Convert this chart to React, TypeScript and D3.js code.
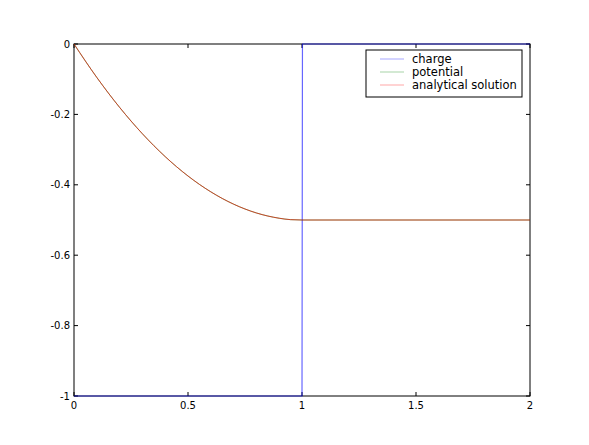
import * as d3 from "d3";

// charge density: uniform inside the slab, zero outside
const chargeX = [0, 1, 1.002, 2];
const chargeY = [-1, -1, 0, 0];

// potential (numerical) and analytical solution
const potentialX = [0, 0.1, 0.2, 0.3, 0.4, 0.5, 0.6, 0.7, 0.8, 0.9, 0.95, 1, 1.5, 2];
const potentialY = [0, -0.095, -0.18, -0.255, -0.32, -0.375, -0.42, -0.455, -0.48, -0.495, -0.499, -0.5, -0.5, -0.5];
const analyticalX = [0, 0.1, 0.2, 0.3, 0.4, 0.5, 0.6, 0.7, 0.8, 0.9, 0.95, 1, 1.5, 2];
const analyticalY = [0, -0.095, -0.18, -0.255, -0.32, -0.375, -0.42, -0.455, -0.48, -0.495, -0.499, -0.5, -0.5, -0.5];

const xTicks = [0, 0.5, 1, 1.5, 2];
const yTicks = [-1, -0.8, -0.6, -0.4, -0.2, 0];
const legendLabels = ["charge", "potential", "analytical solution"];
const legendColors = ["#0000ff", "#008000", "#ff0000"];

const width = 589;
const height = 445;
const margin = { top: 44, right: 59, bottom: 49, left: 74 };

export default function App() {
  const innerWidth = width - margin.left - margin.right;
  const innerHeight = height - margin.top - margin.bottom;

  const x = d3.scaleLinear().domain([0, 2]).range([0, innerWidth]);
  const y = d3.scaleLinear().domain([-1, 0]).range([innerHeight, 0]);

  const straight = d3
    .line<number>()
    .x((_, i) => x(chargeX[i]))
    .y((d) => y(d));

  const smooth = (xs: number[]) =>
    d3
      .line<number>()
      .x((_, i) => x(xs[i]))
      .y((d) => y(d))
      .curve(d3.curveMonotoneX);

  const fmt = (v: number) => (v === 0 ? "0" : String(v));
  const font = "'DejaVu Sans', sans-serif";

  return (
    <svg
      width={width}
      height={height}
      style={{ position: "absolute", left: 0, top: 0, background: "#fff" }}
    >
      <defs>
        <clipPath id="plot">
          <rect x={-1} y={-1} width={innerWidth + 2} height={innerHeight + 2} />
        </clipPath>
      </defs>
      <g transform={`translate(${margin.left},${margin.top})`}>
        {/* frame */}
        <rect x={0} y={0} width={innerWidth} height={innerHeight} fill="none" stroke="#000" strokeWidth={1} />

        {/* x ticks, inside on bottom and top */}
        {xTicks.map((t) => (
          <g key={`x-${t}`}>
            <line x1={x(t)} x2={x(t)} y1={innerHeight} y2={innerHeight - 4} stroke="#000" />
            <line x1={x(t)} x2={x(t)} y1={0} y2={4} stroke="#000" />
            <text x={x(t)} y={innerHeight + 13} textAnchor="middle" fontSize={10} fontFamily={font} fill="#000">
              {fmt(t)}
            </text>
          </g>
        ))}

        {/* y ticks, inside on left and right */}
        {yTicks.map((t) => (
          <g key={`y-${t}`}>
            <line x1={0} x2={4} y1={y(t)} y2={y(t)} stroke="#000" />
            <line x1={innerWidth} x2={innerWidth - 4} y1={y(t)} y2={y(t)} stroke="#000" />
            <text x={-4} y={y(t)} textAnchor="end" dominantBaseline="central" fontSize={10} fontFamily={font} fill="#000">
              {fmt(t)}
            </text>
          </g>
        ))}

        <g clipPath="url(#plot)">
          <path d={straight(chargeY) || ""} fill="none" stroke={legendColors[0]} strokeOpacity={0.6} strokeWidth={1.2} />
          <path d={smooth(potentialX)(potentialY) || ""} fill="none" stroke={legendColors[1]} strokeOpacity={0.6} strokeWidth={1} />
          <path d={smooth(analyticalX)(analyticalY) || ""} fill="none" stroke={legendColors[2]} strokeOpacity={0.6} strokeWidth={1} />
        </g>

        {/* legend */}
        <g transform={`translate(${innerWidth - 164},${6})`}>
          <rect x={0} y={0} width={156} height={47} fill="#fff" stroke="#000" strokeWidth={1} />
          {legendLabels.map((label, i) => (
            <g key={label} transform={`translate(0,${9 + i * 13})`}>
              <line x1={14} x2={38} y1={0} y2={0} stroke={legendColors[i]} strokeOpacity={0.35} strokeWidth={1} />
              <text x={46} y={0} dominantBaseline="central" fontSize={11.5} fontFamily={font} fill="#000">
                {label}
              </text>
            </g>
          ))}
        </g>
      </g>
    </svg>
  );
}
